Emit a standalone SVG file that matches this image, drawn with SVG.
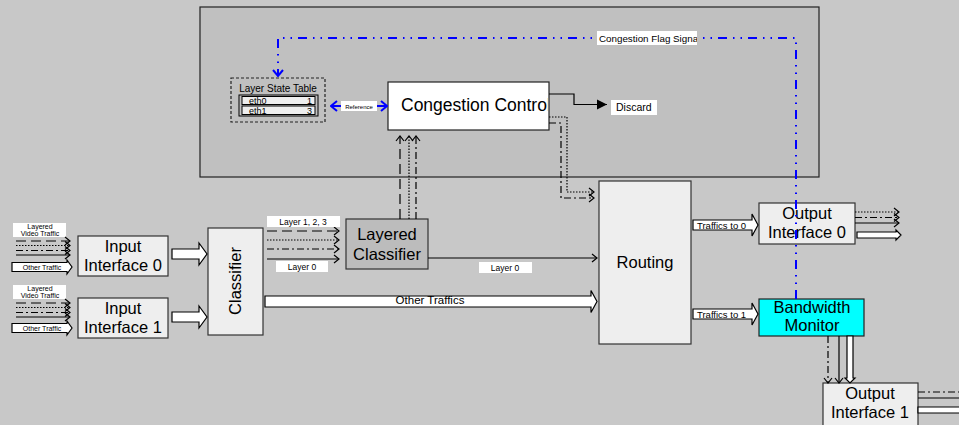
<svg xmlns="http://www.w3.org/2000/svg" width="959" height="425" viewBox="0 0 959 425">
  <style>
    .t { font-family: "Liberation Sans", Arial, sans-serif; fill: #000; }
    .big { font-size: 16.5px; text-anchor: middle; }
    .sm { font-size: 8.5px; }
    .xs { font-size: 7px; }
    .box { fill: #eeeeee; stroke: #333; stroke-width: 1.2; }
    .lbl { fill: #fff; stroke: none; }
    .ln { fill: none; stroke: #000; stroke-width: 1.2; }
    .dash { stroke-dasharray: 10 5; }
    .dot { stroke-dasharray: 1.5 1.5; }
    .dd { stroke-dasharray: 7 3 2 3; }
    .blk { fill: #fff; stroke: #000; stroke-width: 1.2; }
    .blue { fill: none; stroke: #0000ff; stroke-width: 2; }
  </style>
  <defs>
    <marker id="chev" viewBox="-7 -6 8 12" markerWidth="8" markerHeight="12" refX="0" refY="0" orient="auto" markerUnits="userSpaceOnUse">
      <path d="M-5,-4 L0,0 L-5,4" fill="none" stroke="#000" stroke-width="1.2"/>
    </marker>
    <marker id="bchev" viewBox="-9 -7 10 14" markerWidth="10" markerHeight="14" refX="0" refY="0" orient="auto-start-reverse" markerUnits="userSpaceOnUse">
      <path d="M-6,-5 L0,0 L-6,5" fill="none" stroke="#0000ff" stroke-width="2"/>
    </marker>
    <marker id="tri" viewBox="-11 -6 12 12" markerWidth="12" markerHeight="12" refX="0" refY="0" orient="auto" markerUnits="userSpaceOnUse">
      <path d="M-10,-5 L0,0 L-10,5 Z" fill="#000"/>
    </marker>
    <clipPath id="ccClip"><rect x="389" y="83" width="159" height="46"/></clipPath>
    <clipPath id="flagClip"><rect x="597" y="31" width="100" height="14"/></clipPath>
    <clipPath id="discClip"><rect x="611" y="100" width="46" height="15"/></clipPath>
    <clipPath id="t0Clip"><rect x="693" y="214" width="58" height="20"/></clipPath>
    <clipPath id="t1Clip"><rect x="693" y="303" width="58" height="20"/></clipPath>
  </defs>

  <!-- page background -->
  <rect x="0" y="0" width="959" height="425" fill="#c8c8c8"/>

  <!-- control plane panel -->
  <rect id="control-panel" x="200" y="7" width="619" height="170" fill="#c0c0c0" stroke="#222" stroke-width="1.2"/>

  <!-- input traffic sources, interface 0 -->
  <g id="source-0">
    <rect class="lbl" x="13" y="223" width="53" height="14"/>
    <text class="t xs" x="40" y="229" text-anchor="middle">Layered</text>
    <text class="t xs" x="40" y="236" text-anchor="middle">Video Traffic</text>
    <path class="ln dash" d="M16,241 H70" marker-end="url(#chev)"/>
    <path class="ln dot" d="M16,245.5 H70" marker-end="url(#chev)"/>
    <path class="ln dd" d="M16,250.5 H70" marker-end="url(#chev)"/>
    <path class="ln" d="M16,255 H70" marker-end="url(#chev)"/>
    <polygon class="blk" points="12,262.5 67,262.5 67,260 72,267 67,274 67,271.5 12,271.5"/>
    <text class="t xs" x="42" y="270" text-anchor="middle">Other Traffic</text>
  </g>

  <!-- input traffic sources, interface 1 -->
  <g id="source-1">
    <rect class="lbl" x="13" y="285" width="53" height="14"/>
    <text class="t xs" x="40" y="291" text-anchor="middle">Layered</text>
    <text class="t xs" x="40" y="298" text-anchor="middle">Video Traffic</text>
    <path class="ln dash" d="M16,303 H70" marker-end="url(#chev)"/>
    <path class="ln dot" d="M16,307.5 H70" marker-end="url(#chev)"/>
    <path class="ln dd" d="M16,312.5 H70" marker-end="url(#chev)"/>
    <path class="ln" d="M16,317 H70" marker-end="url(#chev)"/>
    <polygon class="blk" points="12,323.5 67,323.5 67,321 72,328 67,335 67,332.5 12,332.5"/>
    <text class="t xs" x="42" y="331" text-anchor="middle">Other Traffic</text>
  </g>

  <g id="input-interface-0">
    <rect class="box" x="78" y="236" width="90" height="40"/>
    <text class="t big" x="123" y="252">Input</text>
    <text class="t big" x="123" y="271">Interface 0</text>
  </g>

  <g id="input-interface-1">
    <rect class="box" x="78" y="298" width="90" height="40"/>
    <text class="t big" x="123" y="314">Input</text>
    <text class="t big" x="123" y="333">Interface 1</text>
  </g>

  <g id="classifier">
    <rect class="box" x="208" y="228" width="55" height="107"/>
    <text class="t big" transform="translate(241,281) rotate(-90)">Classifier</text>
  </g>

  <g id="layered-classifier">
    <rect x="346" y="219" width="82" height="50" fill="#bcbcbc" stroke="#333" stroke-width="1.2"/>
    <text class="t big" x="387" y="240">Layered</text>
    <text class="t big" x="387" y="260">Classifier</text>
  </g>

  <g id="layer-state-table">
    <rect x="231" y="78" width="94" height="44" fill="none" stroke="#222" stroke-width="1.2" stroke-dasharray="3 2"/>
    <text class="t" x="278" y="92" font-size="10" text-anchor="middle">Layer State Table</text>
    <rect x="239" y="95" width="79" height="21" fill="none" stroke="#000" stroke-width="1"/>
    <rect x="242" y="96.5" width="73" height="8" fill="#eeeeee" stroke="#000" stroke-width="1"/>
    <rect x="242" y="106" width="73" height="8.5" fill="#eeeeee" stroke="#000" stroke-width="1"/>
    <text class="t" x="249" y="103.5" font-size="9">eth0</text>
    <text class="t" x="307" y="103.5" font-size="9">1</text>
    <text class="t" x="249" y="113.5" font-size="9">eth1</text>
    <text class="t" x="307" y="113.5" font-size="9">3</text>
  </g>

  <g id="congestion-control">
    <rect x="388" y="82" width="161" height="48" fill="#fff" stroke="#222" stroke-width="1.2"/>
    <text class="t" x="401" y="111" font-size="17.5" clip-path="url(#ccClip)">Congestion Control</text>
  </g>

  <g id="discard">
    <rect class="lbl" x="611" y="100" width="46" height="15"/>
    <text class="t" x="616" y="111" font-size="10.5" clip-path="url(#discClip)">Discard</text>
  </g>

  <g id="routing">
    <rect class="box" x="599" y="181" width="92" height="163"/>
    <text class="t big" x="645" y="268">Routing</text>
  </g>

  <g id="output-interface-0">
    <rect class="box" x="759" y="203" width="96" height="41"/>
    <text class="t big" x="807" y="219">Output</text>
    <text class="t big" x="807" y="238">Interface 0</text>
  </g>

  <g id="bandwidth-monitor">
    <rect x="759" y="299" width="105" height="37" fill="#00ffff" stroke="#222" stroke-width="1.2"/>
    <text class="t big" x="812" y="313">Bandwidth</text>
    <text class="t big" x="812" y="331">Monitor</text>
  </g>

  <g id="output-interface-1">
    <rect class="box" x="823" y="383" width="95" height="50"/>
    <text class="t big" x="870" y="399">Output</text>
    <text class="t big" x="870" y="418">Interface 1</text>
  </g>

  <g id="connectors">
    <!-- interfaces to classifier -->
    <polygon class="blk" points="172,249 199,249 199,243 207,254 199,265 199,259 172,259"/>
    <polygon class="blk" points="172,312 199,312 199,306 207,317 199,328 199,322 172,322"/>

    <!-- classifier to layered classifier -->
    <path class="ln dash" d="M267,231 H339" marker-end="url(#chev)"/>
    <path class="ln dot" d="M267,240 H339" marker-end="url(#chev)"/>
    <path class="ln dd" d="M267,249 H339" marker-end="url(#chev)"/>
    <path class="ln" d="M267,259 H339" marker-end="url(#chev)"/>
    <rect class="lbl" x="267" y="216" width="73" height="11"/>
    <text class="t sm" x="303" y="224.5" text-anchor="middle">Layer 1, 2, 3</text>
    <rect class="lbl" x="276" y="261" width="52" height="11"/>
    <text class="t sm" x="302" y="269.5" text-anchor="middle">Layer 0</text>

    <!-- classifier to routing, other traffics -->
    <polygon class="blk" points="265,296 591,296 591,290.5 597,301.5 591,312.5 591,307 265,307"/>
    <text class="t" x="430" y="304" font-size="11.5" text-anchor="middle">Other Traffics</text>

    <!-- layered classifier to routing, layer 0 -->
    <path class="ln" d="M428,258 H597" marker-end="url(#chev)"/>
    <rect class="lbl" x="479" y="262" width="53" height="11"/>
    <text class="t sm" x="505" y="270.5" text-anchor="middle">Layer 0</text>

    <!-- layered classifier up to congestion control -->
    <path class="ln dash" d="M400,219 V136" marker-end="url(#chev)"/>
    <path class="ln dot" d="M409,219 V136" marker-end="url(#chev)"/>
    <path class="ln dd" d="M416,219 V136" marker-end="url(#chev)"/>

    <!-- congestion control to routing -->
    <path class="ln dot" d="M549,117 H567 V192 H594" marker-end="url(#chev)"/>
    <path class="ln dd" d="M549,123 H561 V198 H594" marker-end="url(#chev)"/>

    <!-- congestion control to discard -->
    <path class="ln" d="M549,94 H574 V104.5 H607" marker-end="url(#tri)"/>

    <!-- reference link -->
    <path class="blue" d="M331,106 H387" marker-start="url(#bchev)" marker-end="url(#bchev)"/>
    <rect class="lbl" x="341" y="101" width="36" height="10"/>
    <text class="t" x="359" y="108.5" font-size="6" text-anchor="middle">Reference</text>

    <!-- routing to outputs -->
    <polygon class="blk" points="693,220 752,220 752,214 758,225 752,236 752,230 693,230"/>
    <text class="t" x="697" y="228.5" font-size="9.5" clip-path="url(#t0Clip)">Traffics to 0</text>
    <polygon class="blk" points="693,309 752,309 752,303 758,314 752,325 752,319 693,319"/>
    <text class="t" x="697" y="317.5" font-size="9.5" clip-path="url(#t1Clip)">Traffics to 1</text>

    <!-- output interface 0 egress -->
    <path class="ln dot" d="M855,212 H899" marker-end="url(#chev)"/>
    <path class="ln dd" d="M855,217.5 H899" marker-end="url(#chev)"/>
    <path class="ln" d="M855,223 H899" marker-end="url(#chev)"/>
    <polygon class="blk" points="857,232 896,232 896,230 901,235 896,240 896,238 857,238"/>

    <!-- bandwidth monitor to output interface 1 -->
    <path class="ln dd" d="M828,336 V383" marker-end="url(#chev)"/>
    <path class="ln" d="M839,336 V383" marker-end="url(#chev)"/>
    <polygon class="blk" points="847,336 853,336 853,378 855,378 850,383 845,378 847,378"/>

    <!-- output interface 1 egress -->
    <path class="ln dd" d="M918,392 H962"/>
    <path class="ln" d="M918,398 H962"/>
    <polygon class="blk" points="918,407 964,407 964,413 918,413"/>

    <!-- congestion flag signal -->
    <path class="blue" d="M796,299 V38 H278 V76" stroke-dasharray="9 6 1.5 6 1.5 6" marker-end="url(#bchev)"/>
    <rect class="lbl" x="597" y="31" width="100" height="14"/>
    <text class="t" x="599" y="42" font-size="9.8" clip-path="url(#flagClip)">Congestion Flag Signal</text>
  </g>
</svg>
